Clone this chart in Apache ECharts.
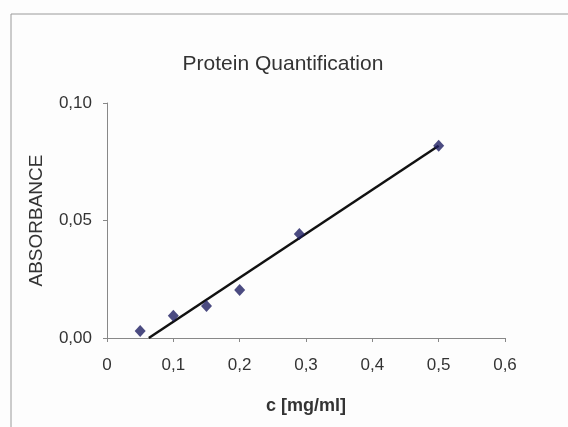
<!DOCTYPE html>
<html>
<head>
<meta charset="utf-8">
<script src="https://cdn.jsdelivr.net/npm/echarts@6/dist/echarts.min.js"></script>
<style>
  html, body { margin: 0; padding: 0; background: #fff; }
  #demo { width: 568px; height: 427px; }
</style>
</head>
<body>
<div id="demo"></div>
<script>
// measured concentrations and absorbances
var conc = [0.05, 0.1, 0.15, 0.2, 0.29, 0.5];
var absorb = [0.003, 0.0095, 0.0136, 0.0204, 0.0443, 0.0818];
// linear trend line end points as drawn
var trendX = [0.063, 0.5];
var trendY = [0, 0.0818];

var points = [];
for (var i = 0; i < conc.length; i++) {
    points.push([conc[i], absorb[i]]);
}
var trend = [];
for (var j = 0; j < trendX.length; j++) {
    trend.push([trendX[j], trendY[j]]);
}

var font = 'Arial, "Liberation Sans", sans-serif';
var mychar = echarts.init(document.getElementById('demo'));
mychar.setOption({
    backgroundColor: '#fdfdfd',
    animation: false,
    title: {
        text: 'Protein Quantification',
        left: 278,
        top: 49,
        textAlign: 'center',
        textStyle: { fontFamily: font, fontSize: 21, fontWeight: 'normal', color: '#333' }
    },
    graphic: [{
        type: 'rect',
        shape: { x: 11, y: 14, width: 620, height: 480 },
        style: { fill: 'none', stroke: '#9a9a9a', lineWidth: 1 },
        silent: true
    }],
    grid: { left: 107, top: 103, right: 63, bottom: 89 },
    xAxis: {
        type: 'value',
        min: 0,
        max: 0.6,
        interval: 0.1,
        name: 'c [mg/ml]',
        nameLocation: 'middle',
        nameGap: 59,
        nameTextStyle: { fontFamily: font, fontSize: 18, fontWeight: 'bold', color: '#333' },
        axisLine: { lineStyle: { color: '#888' } },
        axisTick: { show: true, length: 4, lineStyle: { color: '#888' } },
        splitLine: { show: false },
        axisLabel: {
            margin: 19,
            fontFamily: font,
            fontSize: 17,
            color: '#333',
            formatter: function (v) {
                return v === 0 ? '0' : v.toFixed(1).replace('.', ',');
            }
        }
    },
    yAxis: {
        type: 'value',
        min: 0,
        max: 0.1,
        interval: 0.05,
        name: 'ABSORBANCE',
        nameLocation: 'middle',
        nameGap: 61,
        nameRotate: 90,
        nameTextStyle: { fontFamily: font, fontSize: 19, color: '#333' },
        axisLine: { show: true, lineStyle: { color: '#888' } },
        axisTick: { show: true, length: 4, lineStyle: { color: '#888' } },
        splitLine: { show: false },
        axisLabel: {
            margin: 15,
            fontFamily: font,
            fontSize: 17,
            color: '#333',
            formatter: function (v) {
                return v.toFixed(2).replace('.', ',');
            }
        }
    },
    series: [{
        name: 'trend',
        type: 'line',
        data: trend,
        symbol: 'none',
        lineStyle: { color: '#111', width: 2.5 },
        z: 2
    }, {
        name: 'ABSORBANCE',
        type: 'scatter',
        data: points,
        symbol: 'diamond',
        symbolSize: [11, 12],
        itemStyle: { color: '#1e1e62' },
        z: 3
    }]
});
</script>
</body>
</html>
